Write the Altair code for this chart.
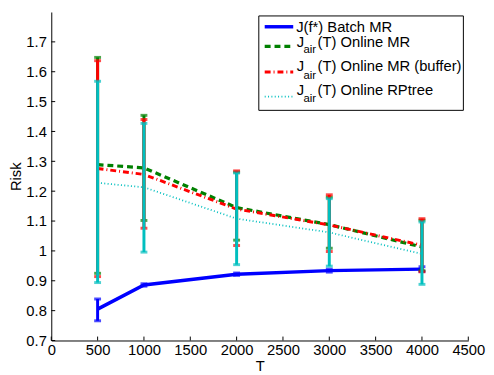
import altair as alt
import pandas as pd

# ---------------- data ----------------
T = [500, 1000, 2000, 3000, 4000]

batch = [0.805, 0.886, 0.922, 0.934, 0.939]
batch_lo = [0.766, 0.882, 0.918, 0.929, 0.931]
batch_hi = [0.839, 0.890, 0.926, 0.939, 0.947]

online = [1.289, 1.278, 1.145, 1.088, 1.013]
online_lo = [0.925, 1.102, 1.036, 1.009, 0.934]
online_hi = [1.648, 1.454, 1.264, 1.180, 1.103]

buffer = [1.276, 1.256, 1.140, 1.087, 1.019]
buffer_lo = [0.914, 1.076, 1.018, 0.998, 0.930]
buffer_hi = [1.637, 1.440, 1.268, 1.188, 1.108]

rptree = [1.228, 1.213, 1.108, 1.062, 0.990]
rptree_lo = [0.894, 0.996, 0.954, 0.949, 0.888]
rptree_hi = [1.568, 1.427, 1.261, 1.175, 1.097]

x_ticks = [0, 500, 1000, 1500, 2000, 2500, 3000, 3500, 4000, 4500]
y_ticks = [0.7, 0.8, 0.9, 1.0, 1.1, 1.2, 1.3, 1.4, 1.5, 1.6, 1.7]

FONT = "Liberation Sans"
W, H = 424, 334

xs = alt.Scale(domain=[0, 4500], nice=False, zero=False)
ys = alt.Scale(domain=[0.7, 1.8], nice=False, zero=False)

x_axis = alt.Axis(values=x_ticks, format="d", title="T", grid=False,
                  tickSize=0, labelPadding=2, titlePadding=1,
                  labelFlush=False, labelOverlap=False)
y_axis = alt.Axis(values=y_ticks, format="~g", title="Risk", grid=False,
                  tickSize=0, labelPadding=5, titlePadding=2,
                  labelFlush=False, labelOverlap=False)

def X(f):
    return alt.X(f, scale=xs, axis=x_axis)

def Y(f):
    return alt.Y(f, scale=ys, axis=y_axis)

def series(vals, lo, hi, color, dash, lw):
    df = pd.DataFrame({"T": T, "v": vals, "lo": lo, "hi": hi})
    base = alt.Chart(df)
    line_kw = dict(color=color, strokeWidth=lw, clip=True)
    if dash:
        line_kw["strokeDash"] = dash
    line = base.mark_line(**line_kw).encode(x=X("T:Q"), y=Y("v:Q"))
    bar = base.mark_rule(color=color, strokeWidth=3).encode(
        x=X("T:Q"), y=Y("lo:Q"), y2="hi:Q")
    cap_lo = base.mark_tick(color=color, orient="horizontal", size=7,
                            thickness=3).encode(x=X("T:Q"), y=Y("lo:Q"))
    cap_hi = base.mark_tick(color=color, orient="horizontal", size=7,
                            thickness=3).encode(x=X("T:Q"), y=Y("hi:Q"))
    return [line, bar, cap_lo, cap_hi]

BLUE, GREEN, RED, CYAN = "#0000FF", "#008000", "#FF0000", "#00BFBF"
DASH_G, DASH_R, DASH_C = [6, 4], [6, 3, 1, 3], [1, 2.4]

layers = []
layers += series(batch, batch_lo, batch_hi, BLUE, None, 3.5)
layers += series(online, online_lo, online_hi, GREEN, DASH_G, 3.3)
layers += series(buffer, buffer_lo, buffer_hi, RED, DASH_R, 3)
layers += series(rptree, rptree_lo, rptree_hi, CYAN, DASH_C, 1.8)

# inward tick marks (MATLAB style)
xt = alt.Chart(pd.DataFrame({"t": x_ticks})).mark_rule(
    color="black", strokeWidth=1).encode(
    x=X("t:Q"), y=alt.value(H), y2=alt.value(H - 4))
yt = alt.Chart(pd.DataFrame({"t": y_ticks})).mark_rule(
    color="black", strokeWidth=1).encode(
    y=Y("t:Q"), x=alt.value(0), x2=alt.value(4))
layers += [xt, yt]

# ---------------- legend ----------------
one = pd.DataFrame({"k": [0]})
legend_labels = ["J(f*) Batch MR", "(T) Online MR", "(T) Online MR (buffer)",
                 "(T) Online RPtree"]

box = alt.Chart(one).mark_rect(fill="white", stroke="black",
                               strokeWidth=1).encode(
    x=alt.value(211), x2=alt.value(419), y=alt.value(4), y2=alt.value(100))
layers.append(box)

samples = [(15, BLUE, None, 3.5), (35, GREEN, DASH_G, 3.3),
           (61, RED, DASH_R, 3), (86, CYAN, DASH_C, 1.8)]
for yy, col, dash, lw in samples:
    kw = dict(color=col, strokeWidth=lw)
    if dash:
        kw["strokeDash"] = dash
    layers.append(alt.Chart(one).mark_rule(**kw).encode(
        x=alt.value(217), x2=alt.value(246), y=alt.value(yy)))

def txt(s, x, y, size):
    return alt.Chart(pd.DataFrame({"s": [s]})).mark_text(
        align="left", baseline="middle", font=FONT, fontSize=size,
        color="black").encode(x=alt.value(x), y=alt.value(y), text="s:N")

layers.append(txt(legend_labels[0], 249, 15, 15))
for (ymain, ysub), lab in zip([(31, 39), (55, 65), (79, 88)], legend_labels[1:]):
    layers.append(txt("J", 249.7, ymain, 15))
    layers.append(txt("air", 256.5, ysub, 11.5))
    layers.append(txt(lab, 270.7, ymain, 15))

chart = alt.layer(*layers).properties(
    width=W, height=H,
    autosize=alt.AutoSizeParams(type="none"),
    padding={"left": 44, "top": 1, "right": 18, "bottom": 32},
).configure_view(stroke=None).configure_axis(
    domainColor="black", domainWidth=1, labelFont=FONT, titleFont=FONT,
    labelFontSize=15, titleFontSize=15, labelColor="black",
    titleColor="black", titleFontWeight="normal",
)

chart.save("out.html", embed_options={"renderer": "svg", "actions": False})
